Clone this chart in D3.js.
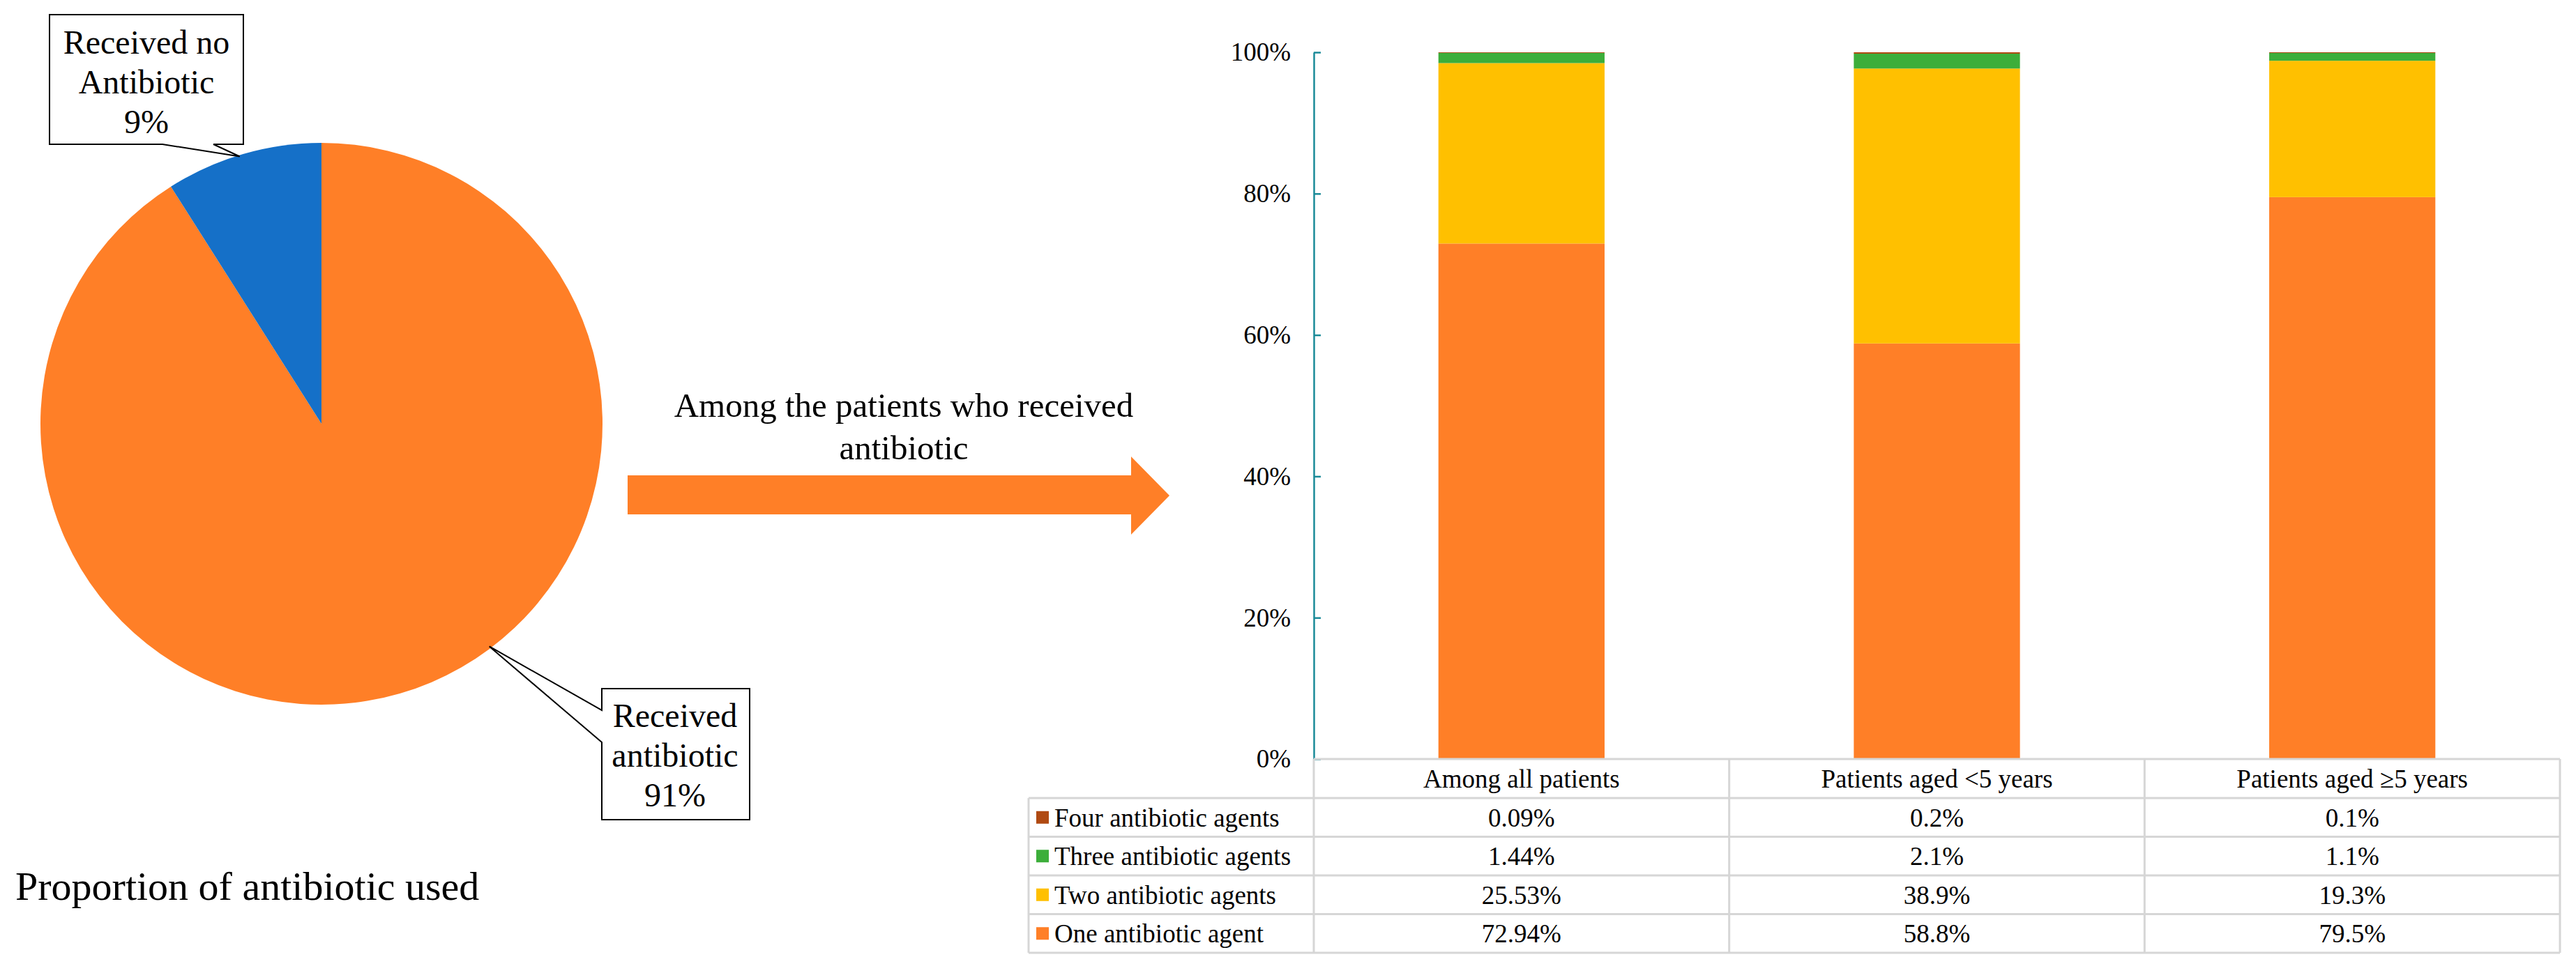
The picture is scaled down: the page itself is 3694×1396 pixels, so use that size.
<!DOCTYPE html>
<html>
<head>
<meta charset="utf-8">
<script src="https://cdn.jsdelivr.net/npm/d3@7"></script>
<style>
  html, body { margin: 0; padding: 0; background: #fff; overflow: hidden; }
  text { font-family: "Liberation Serif", "Times New Roman", serif; fill: #000; }
</style>
</head>
<body>
<div id="chart"></div>
<script>
// Pie data
const pieLabels = ["Received antibiotic", "Received no Antibiotic"];
const pieValues = [91, 9];

// Stacked bar / data table
const groups = ["Among all patients", "Patients aged <5 years", "Patients aged \u22655 years"];
const agents = ["Four antibiotic agents", "Three antibiotic agents", "Two antibiotic agents", "One antibiotic agent"];
const fourAgents = [0.09, 0.2, 0.1];
const threeAgents = [1.44, 2.1, 1.1];
const twoAgents = [25.53, 38.9, 19.3];
const oneAgent = [72.94, 58.8, 79.5];
const yTicks = [0, 20, 40, 60, 80, 100];

const W = 3694, H = 1396;
const colors = {
    "One antibiotic agent": "#ff7f27",
    "Two antibiotic agents": "#ffc000",
    "Three antibiotic agents": "#3cae3a",
    "Four antibiotic agents": "#b04a12"
};
const pieColors = ["#ff7f27", "#1570c8"];

const svg = d3.select("#chart")
    .append("svg")
    .attr("width", W)
    .attr("height", H);

// ---------- Pie ----------
const cx = 461, cy = 608, r = 403;
const pie = d3.pie().sort(null)(pieValues);
const arc = d3.arc().innerRadius(0).outerRadius(r);

const pieG = svg.append("g").attr("transform", `translate(${cx},${cy})`);
pieG.selectAll("path")
    .data(pie)
    .enter()
    .append("path")
    .attr("d", arc)
    .style("fill", (d, i) => pieColors[i]);

// callouts (box + wedge pointer)
function pointAt(angleDeg, rad) {
    const a = angleDeg * Math.PI / 180;
    return [cx + rad * Math.sin(a), cy - rad * Math.cos(a)];
}
const tipNo = pointAt(-17, 401);
const tipYes = pointAt(143, 400);

svg.append("path")
    .attr("d", `M71,21 H349 V207 H306 L${tipNo[0]},${tipNo[1]} L233,207 H71 Z`)
    .style("fill", "#fff").style("stroke", "#000").style("stroke-width", 2);
svg.append("path")
    .attr("d", `M863,988 H1075 V1176 H863 V1065 L${tipYes[0]},${tipYes[1]} L863,1019 Z`)
    .style("fill", "#fff").style("stroke", "#000").style("stroke-width", 2);

const calloutNo = ["Received no", "Antibiotic", pieValues[1] + "%"];
const calloutYes = ["Received", "antibiotic", pieValues[0] + "%"];
svg.append("text")
    .attr("text-anchor", "middle")
    .style("font-size", "48px")
    .selectAll("tspan")
    .data(calloutNo)
    .enter()
    .append("tspan")
    .attr("x", 210)
    .attr("y", (d, i) => 77 + i * 57)
    .text(d => d);
svg.append("text")
    .attr("text-anchor", "middle")
    .style("font-size", "48px")
    .selectAll("tspan")
    .data(calloutYes)
    .enter()
    .append("tspan")
    .attr("x", 968)
    .attr("y", (d, i) => 1043 + i * 57)
    .text(d => d);

svg.append("text")
    .attr("x", 22)
    .attr("y", 1291)
    .style("font-size", "58px")
    .text("Proportion of antibiotic used");

// ---------- Arrow ----------
svg.append("path")
    .attr("d", "M900,682 H1622 V655 L1677,711 L1622,767 V738 H900 Z")
    .style("fill", "#ff7f27");
svg.append("text")
    .attr("text-anchor", "middle")
    .style("font-size", "49px")
    .selectAll("tspan")
    .data(["Among the patients who received", "antibiotic"])
    .enter()
    .append("tspan")
    .attr("x", 1296)
    .attr("y", (d, i) => 598 + i * 61)
    .text(d => d);

// ---------- Stacked bars ----------
const plotLeft = 1884, plotRight = 3671, plotTop = 75, plotBottom = 1089;
const tableLeft = 1475, headerBottom = 1145, rowH = 55.5;

const x = d3.scaleBand()
    .domain(groups)
    .range([plotLeft, plotRight]);
const xBar = d3.scaleBand()
    .domain(groups)
    .range([plotLeft, plotRight])
    .paddingInner(0.6)
    .paddingOuter(0.3);
const y = d3.scaleLinear()
    .domain([0, 100])
    .range([plotBottom, plotTop]);

const rows = groups.map((g, i) => ({
    group: g,
    "One antibiotic agent": oneAgent[i],
    "Two antibiotic agents": twoAgents[i],
    "Three antibiotic agents": threeAgents[i],
    "Four antibiotic agents": fourAgents[i]
}));
const stackKeys = agents.slice().reverse();
const series = d3.stack().keys(stackKeys)(rows);

svg.append("g")
    .selectAll("g")
    .data(series)
    .enter()
    .append("g")
    .style("fill", d => colors[d.key])
    .selectAll("rect")
    .data(d => d)
    .enter()
    .append("rect")
    .attr("x", d => xBar(d.data.group))
    .attr("width", xBar.bandwidth())
    .attr("y", d => y(d[1]))
    .attr("height", d => y(d[0]) - y(d[1]));

// Y axis
const yAxis = svg.append("g")
    .attr("transform", `translate(${plotLeft},0)`)
    .call(d3.axisLeft(y)
        .tickValues(yTicks)
        .tickFormat(d => d + "%")
        .tickSizeInner(-10)
        .tickSizeOuter(0)
        .tickPadding(33));
yAxis.select(".domain").style("stroke", "#1a8a98").style("stroke-width", 2.5);
yAxis.selectAll(".tick line").style("stroke", "#1a8a98").style("stroke-width", 2.5);
yAxis.selectAll(".tick text")
    .style("font-size", "37px")
    .style("font-family", "'Liberation Serif', 'Times New Roman', serif")
    .style("fill", "#000");

// ---------- Data table ----------
const grid = svg.append("g")
    .style("stroke", "#d6d6d6")
    .style("stroke-width", 3)
    .style("fill", "none");
const tableBottom = headerBottom + rowH * agents.length;

// horizontal lines
grid.append("line").attr("x1", plotLeft).attr("x2", plotRight).attr("y1", plotBottom).attr("y2", plotBottom);
d3.range(agents.length + 1).forEach(i => {
    grid.append("line")
        .attr("x1", tableLeft).attr("x2", plotRight)
        .attr("y1", headerBottom + i * rowH).attr("y2", headerBottom + i * rowH);
});
// vertical lines
grid.append("line").attr("x1", tableLeft).attr("x2", tableLeft).attr("y1", headerBottom).attr("y2", tableBottom);
groups.forEach(g => {
    grid.append("line").attr("x1", x(g)).attr("x2", x(g)).attr("y1", plotBottom).attr("y2", tableBottom);
});
grid.append("line").attr("x1", plotRight).attr("x2", plotRight).attr("y1", plotBottom).attr("y2", tableBottom);

// header
svg.append("g")
    .selectAll("text")
    .data(groups)
    .enter()
    .append("text")
    .attr("x", d => x(d) + x.bandwidth() / 2)
    .attr("y", (plotBottom + headerBottom) / 2)
    .attr("dy", "0.35em")
    .attr("text-anchor", "middle")
    .style("font-size", "37px")
    .text(d => d);

const valuesByAgent = {
    "Four antibiotic agents": fourAgents,
    "Three antibiotic agents": threeAgents,
    "Two antibiotic agents": twoAgents,
    "One antibiotic agent": oneAgent
};

const rowG = svg.append("g")
    .selectAll("g")
    .data(agents)
    .enter()
    .append("g")
    .attr("transform", (d, i) => `translate(0,${headerBottom + i * rowH + rowH / 2})`);

rowG.append("rect")
    .attr("x", 1486)
    .attr("y", -9)
    .attr("width", 18)
    .attr("height", 18)
    .style("fill", d => colors[d]);

rowG.append("text")
    .attr("x", 1512)
    .attr("dy", "0.35em")
    .style("font-size", "37px")
    .text(d => d);

rowG.selectAll("text.val")
    .data(d => valuesByAgent[d].map((v, i) => ({ v: v, group: groups[i] })))
    .enter()
    .append("text")
    .attr("class", "val")
    .attr("x", d => x(d.group) + x.bandwidth() / 2)
    .attr("dy", "0.35em")
    .attr("text-anchor", "middle")
    .style("font-size", "37px")
    .text(d => d.v + "%");
</script>
</body>
</html>
